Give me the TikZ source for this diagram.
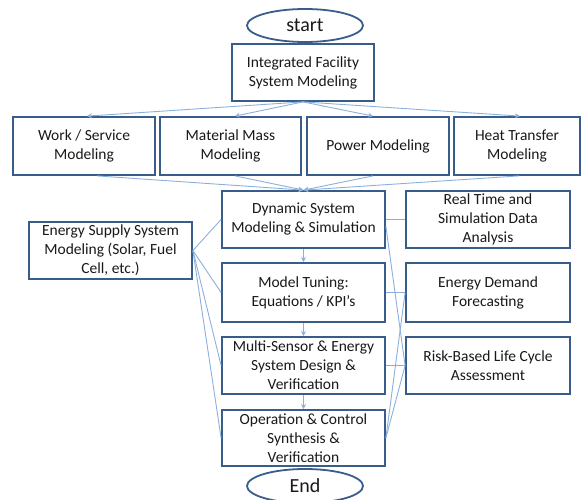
\documentclass[tikz,border=0pt]{standalone}
\usepackage{fontspec}
\setmainfont{Carlito}
\usetikzlibrary{arrows.meta,shapes.geometric}
\definecolor{boxblue}{RGB}{56,93,138}
\definecolor{linkblue}{RGB}{140,176,222}
\begin{document}
\begin{tikzpicture}[x=1pt,y=-1pt,
 box/.style={draw=boxblue,line width=1.8pt,fill=white,align=center,inner sep=0pt,font=\fontsize{15.5}{19}\selectfont,text=black!90},
 term/.style={ellipse,draw=boxblue,line width=1.8pt,fill=white,inner sep=0pt,font=\fontsize{20}{24}\selectfont,text=black!90},
 link/.style={draw=linkblue,line width=0.9pt},
 arr/.style={link,-{Stealth[length=5pt,width=5pt]}}]
\useasboundingbox (0,0) rectangle (582,500);

\node[term,minimum width=116,minimum height=33] (start) at (305,25.5) {start};
\node[box,minimum width=142,minimum height=57] (integ) at (303,72.5) {Integrated Facility\\System Modeling};

\node[box,minimum width=142,minimum height=58] (work) at (84,146) {Work / Service\\Modeling};
\node[box,minimum width=141,minimum height=58] (mat) at (230.5,146) {Material Mass\\Modeling};
\node[box,minimum width=142,minimum height=58] (power) at (378,146) {Power Modeling};
\node[box,minimum width=126,minimum height=58] (heat) at (517,146) {Heat Transfer\\Modeling};

\node[box,minimum width=163,minimum height=57] (dyn) at (303.5,219.5) {Dynamic System\\Modeling \& Simulation};
\node[box,minimum width=164,minimum height=57] (real) at (488,219.5) {Real Time and\\Simulation Data\\Analysis};
\node[box,minimum width=163,minimum height=57] (supply) at (110.5,250.5) {Energy Supply System\\Modeling (Solar, Fuel\\Cell, etc.)};
\node[box,minimum width=163,minimum height=59] (tune) at (303.5,292.5) {Model Tuning:\\Equations / KPI’s};
\node[box,minimum width=164,minimum height=59] (demand) at (488,292.5) {Energy Demand\\Forecasting};
\node[box,minimum width=163,minimum height=57] (multi) at (303.5,365.5) {Multi-Sensor \& Energy\\System Design \&\\Verification};
\node[box,minimum width=164,minimum height=57] (risk) at (488,365.5) {Risk-Based Life Cycle\\Assessment};
\node[box,minimum width=163,minimum height=56] (op) at (303.5,438) {Operation \& Control\\Synthesis \&\\Verification};
\node[term,minimum width=116,minimum height=34] (end) at (305,486) {End};

% top fan-out
\draw[arr] (integ.south) -- ([xshift=3pt]work.north);
\draw[arr] (integ.south) -- ([xshift=4.5pt]mat.north);
\draw[arr] (integ.south) -- ([xshift=-5pt]power.north);
\draw[arr] (integ.south) -- ([xshift=3pt]heat.north);
% fan-in
\draw[arr] ([xshift=13pt]work.south) -- (dyn.north);
\draw[arr] ([xshift=4.5pt]mat.south) -- (dyn.north);
\draw[arr] ([xshift=-5pt]power.south) -- (dyn.north);
\draw[arr] ([xshift=2pt]heat.south) -- (dyn.north);
% main chain
\draw[arr] (dyn.south) -- (tune.north);
\draw[arr] (tune.south) -- (multi.north);
\draw[arr] (multi.south) -- (op.north);
% energy supply links
\draw[link] (supply.east) -- (dyn.west);
\draw[link] (supply.east) -- (tune.west);
\draw[link] (supply.east) -- (multi.west);
\draw[link] (supply.east) -- (op.west);
% right links
\draw[link] (dyn.east) -- (real.west);
\draw[link] (tune.east) -- (demand.west);
\draw[link] (multi.east) -- (risk.west);
\draw[link] ([yshift=-7pt]dyn.east) -- (risk.west);
\draw[link] (op.east) -- (demand.west);
\draw[link] (op.east) -- (risk.west);
\end{tikzpicture}
\end{document}
